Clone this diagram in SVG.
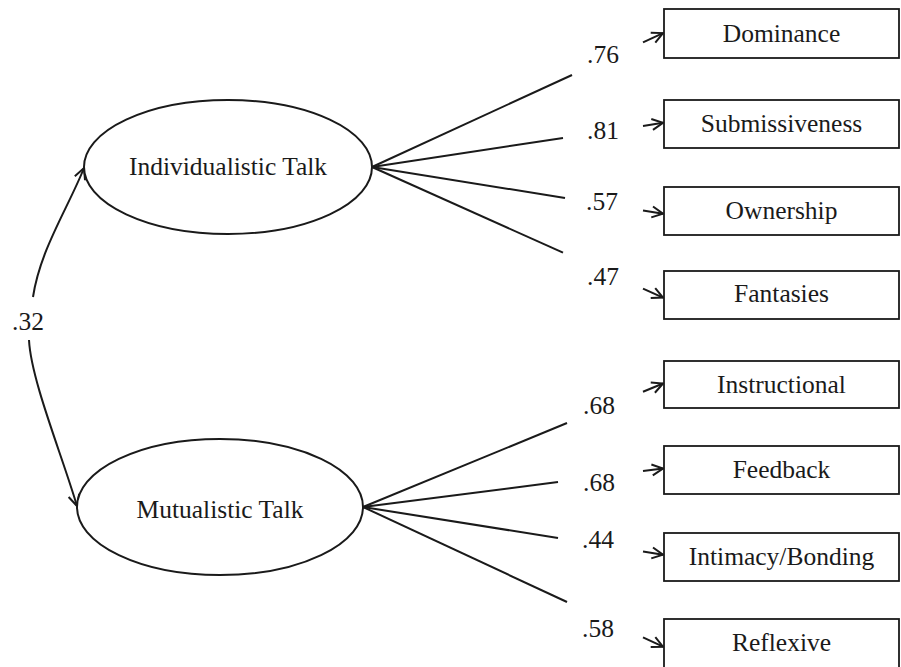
<svg xmlns="http://www.w3.org/2000/svg" width="901" height="667" viewBox="0 0 901 667">
<style>
  .shape { fill: #fff; stroke: #1a1a1a; stroke-width: 2; }
  .box { fill: #fff; stroke: #1a1a1a; stroke-width: 1.8; }
  .conn { fill: none; stroke: #1a1a1a; stroke-width: 2; }
  text { font-family: 'Liberation Serif', 'Times New Roman', Tinos, 'Noto Serif', 'DejaVu Serif', FreeSerif, Times, serif; font-size: 25.5px; fill: #1a1a1a; }
  .mid { text-anchor: middle; }
</style>
<defs>
  <marker id="arr" viewBox="0 0 14 14" refX="12" refY="7" markerWidth="14" markerHeight="14" markerUnits="userSpaceOnUse" orient="auto">
    <path d="M1,1.5 L12,7 L1,12.5" fill="none" stroke="#1a1a1a" stroke-width="2"/>
  </marker>
</defs>
<rect width="901" height="667" fill="#fff"/>

<g id="connectors">
  <path class="conn" d="M33,297 C40,250 68,208 84,168" marker-end="url(#arr)"/>
  <path class="conn" d="M29,340 C31,380 62,455 77,506" marker-end="url(#arr)"/>
  <path class="conn" d="M372,167 L572,75"/>
  <path class="conn" d="M643,42.3 L663,33.1" marker-end="url(#arr)"/>
  <path class="conn" d="M372,167 L563,138"/>
  <path class="conn" d="M643,125.9 L663,122.8" marker-end="url(#arr)"/>
  <path class="conn" d="M372,167 L565,198"/>
  <path class="conn" d="M643,210.5 L663,213.7" marker-end="url(#arr)"/>
  <path class="conn" d="M372,167 L563,252.7"/>
  <path class="conn" d="M643,288.6 L663,297.6" marker-end="url(#arr)"/>
  <path class="conn" d="M363,507 L567,423"/>
  <path class="conn" d="M643,391.7 L663,383.5" marker-end="url(#arr)"/>
  <path class="conn" d="M363,507 L558,482"/>
  <path class="conn" d="M643,471.1 L663,468.5" marker-end="url(#arr)"/>
  <path class="conn" d="M363,507 L558,538"/>
  <path class="conn" d="M643,551.5 L663,554.7" marker-end="url(#arr)"/>
  <path class="conn" d="M363,507 L567,602"/>
  <path class="conn" d="M643,637.4 L663,646.7" marker-end="url(#arr)"/>
  <text x="12" y="330">.32</text>
  <text x="587" y="63">.76</text>
  <text x="587" y="139">.81</text>
  <text x="586" y="210">.57</text>
  <text x="587" y="285">.47</text>
  <text x="583" y="414">.68</text>
  <text x="583" y="491">.68</text>
  <text x="582" y="548">.44</text>
  <text x="582" y="637">.58</text>
</g>

<g id="individualistic">
  <ellipse class="shape" cx="228" cy="167" rx="144" ry="67"/>
  <text class="mid" x="228" y="175">Individualistic Talk</text>
</g>
<g id="mutualistic">
  <ellipse class="shape" cx="220" cy="507" rx="143" ry="68"/>
  <text class="mid" x="220" y="518">Mutualistic Talk</text>
</g>

<g id="dominance">
  <rect class="box" x="664" y="9" width="235" height="49"/>
  <text class="mid" x="781.5" y="42">Dominance</text>
</g>
<g id="submissiveness">
  <rect class="box" x="664" y="100" width="235" height="48"/>
  <text class="mid" x="781.5" y="132">Submissiveness</text>
</g>
<g id="ownership">
  <rect class="box" x="664" y="187" width="235" height="48"/>
  <text class="mid" x="781.5" y="219">Ownership</text>
</g>
<g id="fantasies">
  <rect class="box" x="664" y="271" width="235" height="48"/>
  <text class="mid" x="781.5" y="302">Fantasies</text>
</g>
<g id="instructional">
  <rect class="box" x="664" y="361" width="235" height="47"/>
  <text class="mid" x="781.5" y="393">Instructional</text>
</g>
<g id="feedback">
  <rect class="box" x="664" y="446" width="235" height="48"/>
  <text class="mid" x="781.5" y="478">Feedback</text>
</g>
<g id="intimacy">
  <rect class="box" x="664" y="533" width="235" height="48"/>
  <text class="mid" x="781.5" y="565">Intimacy/Bonding</text>
</g>
<g id="reflexive">
  <rect class="box" x="664" y="619" width="235" height="49"/>
  <text class="mid" x="781.5" y="651">Reflexive</text>
</g>
</svg>
